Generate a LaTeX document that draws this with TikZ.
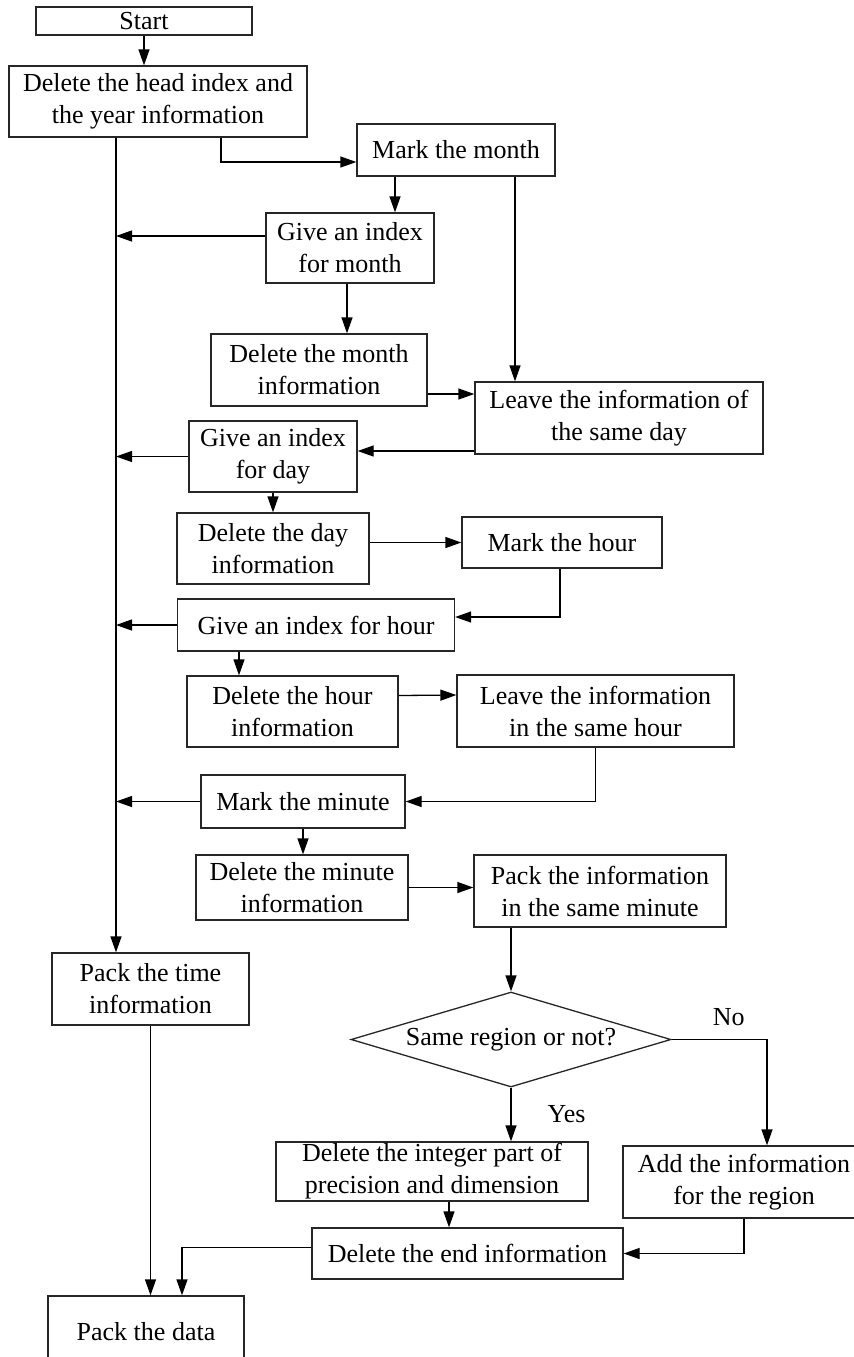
\documentclass[tikz,border=0pt]{standalone}
\usepackage{fontspec}
\setmainfont{Liberation Serif}
\usetikzlibrary{arrows.meta,
                calc,
                positioning,
                shapes.geometric}
\tikzset{
	%Define style for boxes
	proc/.style={
	       rectangle,
	       draw=black!85, line width=0.65pt,
	       inner sep=0pt,
	       align=center,
	       font=\fontsize{13}{16}\selectfont},
	sz/.style 2 args={
	       minimum width=#1*0.5pt,
	       minimum height=#2*0.5pt},
	cond/.style={
	       diamond,
	       aspect=3.37,
	       draw=black!85, line width=0.65pt,
	       inner sep=0pt,
	       font=\fontsize{13}{16}\selectfont},
	lbl/.style={
	       inner sep=0pt,
	       font=\fontsize{13}{16}\selectfont},
	% Define arrow style
	flow/.style={
	       -{Triangle[length=8pt,width=5.5pt]},
	       line width=0.65pt}
}

\begin{document}
\begin{tikzpicture}[x=0.5pt, y=-0.5pt]
		\useasboundingbox (0,0) rectangle (853,1357);
		% boxes
		\node[proc, sz={216}{28}] (start) at (144,21) {Start};
		\node[proc, sz={298}{71}] (head) at (158,101.5) {Delete the head index and\\the year information};
		\node[proc, sz={198}{52}] (markmonth) at (456,150) {Mark the month};
		\node[proc, sz={168}{70}] (gimonth) at (350,248) {Give an index\\for month};
		\node[proc, sz={216}{72}] (delmonth) at (319,370) {Delete the month\\information};
		\node[proc, sz={288}{72}] (sameday) at (619,418) {Leave the information of\\the same day};
		\node[proc, sz={168}{71}] (giday) at (273,456.5) {Give an index\\for day};
		\node[proc, sz={192}{71}] (delday) at (273,548.5) {Delete the day\\information};
		\node[proc, sz={200}{51}] (markhour) at (562,542.5) {Mark the hour};
		\node[proc, sz={277}{52}] (gihour) at (316,625) {Give an index for hour};
		\node[proc, sz={211}{71}] (delhour) at (292.5,711.5) {Delete the hour\\information};
		\node[proc, sz={277}{72}] (samehour) at (595.5,711) {Leave the information\\in the same hour};
		\node[proc, sz={204}{53}] (markmin) at (303,801.5) {Mark the minute};
		\node[proc, sz={212}{65}] (delmin) at (302,887.5) {Delete the minute\\information};
		\node[proc, sz={252}{72}] (packmin) at (600,891) {Pack the information\\in the same minute};
		\node[proc, sz={197}{72}] (packtime) at (150.5,989) {Pack the time\\information};
		\node[cond, sz={320}{95}] (region) at (511,1039.5) {Same region or not?};
		\node[proc, sz={312}{59}] (delint) at (432,1171.5) {Delete the integer part of\\precision and dimension};
		\node[proc, sz={242}{72}] (addinfo) at (744,1182) {Add the information\\for the region};
		\node[proc, sz={311}{51}] (delend) at (467.5,1253.5) {Delete the end information};
		\node[proc, sz={196}{72}] (packdata) at (146,1332) {Pack the data};
		% helper points
		\coordinate (trunk) at ($(head.south)+(-42,0)$);
		\path ($(gimonth.west)+(0,-12)$) coordinate (gm_l)
		      ($(sameday.west)+(0,33)$) coordinate (sd_l)
		      ($(gihour.south)+(-77,0)$) coordinate (gh_s)
		      ($(delint.south)+(17,0)$) coordinate (di_s)
		      ($(delend.west)+(0,-6)$) coordinate (de_l);
		% connectors
		\draw[flow] (trunk) -- (trunk |- packtime.north);
		\draw[flow] (start.south) -- (start.south |- head.north);
		\draw[flow] ($(head.south)+(63,0)$) |- ($(markmonth.west)+(0,12)$);
		\draw[flow] ($(markmonth.south)+(-61,0)$) -- ($(gimonth.north)+(45,0)$);
		\draw[flow] ($(markmonth.south)+(59,0)$) -- ($(sameday.north)+(-104,0)$);
		\draw[flow] (gm_l) -- (gm_l -| trunk);
		\draw[flow] ($(gimonth.south)+(-3,0)$) -- ($(delmonth.north)+(28,0)$);
		\draw[flow] ($(delmonth.east)+(0,24)$) -- ($(sameday.west)+(0,-24)$);
		\draw[flow] (sd_l) -- (sd_l -| giday.east);
		\draw[flow] (giday.west) -- (giday.west -| trunk);
		\draw[flow] (giday.south) -- (delday.north);
		\draw[flow] (markhour.west -| delday.east) -- (markhour.west);
		\draw[flow] ($(markhour.south)+(-2,0)$) |- ($(gihour.east)+(0,-8)$);
		\draw[flow] (gihour.west) -- (gihour.west -| trunk);
		\draw[flow] (gh_s) -- (gh_s |- delhour.north);
		\draw[flow] ($(delhour.east)+(0,-16)$) -- ($(samehour.west)+(0,-16)$);
		\draw[flow] (samehour.south) |- (markmin.east);
		\draw[flow] (markmin.west) -- (markmin.west -| trunk);
		\draw[flow] (markmin.south) -- (markmin.south |- delmin.north);
		\draw[flow] (delmin.east) -- (delmin.east -| packmin.west);
		\draw[flow] (region.north |- packmin.south) -- (region.north);
		\draw[flow] (region.east) -| ($(addinfo.north)+(23,0)$)
		      node[lbl, pos=0.3, above=6.5pt] (no) {No};
		\draw[flow] (region.south) -- (region.south |- delint.north)
		      node[lbl, midway, right=18pt] (yes) {Yes};
		\draw[flow] (di_s) -- (di_s |- delend.north);
		\draw[flow] (addinfo.south) |- (delend.east);
		\draw[flow] (de_l) -| ($(packdata.north)+(36,0)$);
		\draw[flow] (packtime.south) -- (packtime.south |- packdata.north);
\end{tikzpicture}
\end{document}
